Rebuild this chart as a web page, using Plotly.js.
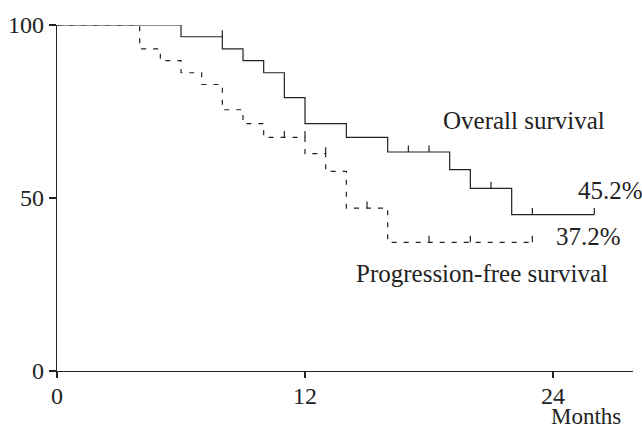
<!DOCTYPE html>
<html>
<head>
<meta charset="utf-8">
<script src="https://cdn.plot.ly/plotly-3.0.1.min.js"></script>
<style>html,body{margin:0;padding:0;background:#fff;}#chart{width:642px;height:431px;}</style>
</head>
<body>
<div id="chart"></div>
<script>
// Overall survival (Kaplan-Meier steps)
const osTimes = [0, 6, 8, 9, 10, 11, 12, 14, 16, 19, 20, 22, 26];
const osSurv  = [100, 96.6, 93.1, 89.7, 86.2, 79.0, 71.5, 67.5, 63.3, 58.2, 52.8, 45.2, 45.2];
const osCensor = [8, 17, 18, 21, 23, 26];

// Progression-free survival
const pfsTimes = [0, 4, 5, 6, 7, 8, 9, 10, 12, 13, 14, 16, 23];
const pfsSurv  = [100, 93.1, 89.7, 86.2, 82.8, 75.5, 71.5, 67.5, 62.8, 57.7, 47.1, 37.2, 37.2];
const pfsCensor = [11, 12, 13, 15, 18, 20, 23];

const xTicks = [0, 12, 24];
const yTicks = [0, 50, 100];

const INK = '#222';
const TICK_H = 1.9; // censor tick height (y units)

function levelBefore(times, surv, t) {
  let v = surv[0];
  for (let i = 0; i < times.length; i++) { if (times[i] < t) v = surv[i]; }
  return v;
}
function censorSegs(times, surv, cens) {
  const x = [], y = [];
  cens.forEach(t => {
    const v = levelBefore(times, surv, t);
    x.push(t, t, null); y.push(v, v + TICK_H, null);
  });
  return {x, y};
}
const osC = censorSegs(osTimes, osSurv, osCensor);
const pfsC = censorSegs(pfsTimes, pfsSurv, pfsCensor);

const FAM = '"Liberation Serif", "Times New Roman", serif';
const font = {family: FAM, size: 25, color: INK};

const data = [
  {x: pfsTimes, y: pfsSurv, mode: 'lines', line: {shape: 'hv', color: INK, width: 1.2, dash: '5px,7px'}, hoverinfo: 'skip'},
  {x: pfsC.x, y: pfsC.y, mode: 'lines', line: {color: INK, width: 1.2}, hoverinfo: 'skip'},
  {x: osTimes, y: osSurv, mode: 'lines', line: {shape: 'hv', color: INK, width: 1.2}, hoverinfo: 'skip'},
  {x: osC.x, y: osC.y, mode: 'lines', line: {color: INK, width: 1.2}, hoverinfo: 'skip'}
];

const layout = {
  width: 642, height: 431,
  margin: {l: 57, r: 9, t: 25, b: 60},
  paper_bgcolor: '#fff', plot_bgcolor: '#fff',
  showlegend: false,
  font: font,
  xaxis: {
    range: [0, 27.87], showgrid: false, zeroline: false,
    showline: true, linecolor: INK, linewidth: 1.3,
    ticks: 'outside', ticklen: 6, tickcolor: INK, tickwidth: 1.3,
    ticklabelstandoff: -3,
    tickmode: 'array', tickvals: xTicks, ticktext: xTicks.map(String),
    tickfont: {family: FAM, size: 24, color: INK}
  },
  yaxis: {
    range: [0, 100], showgrid: false, zeroline: false,
    showline: true, linecolor: INK, linewidth: 1.3,
    ticks: 'outside', ticklen: 7, tickcolor: INK, tickwidth: 1.3,
    tickmode: 'array', tickvals: yTicks, ticktext: yTicks.map(String),
    tickfont: {family: FAM, size: 24, color: INK}
  },
  annotations: [
    {text: 'Overall survival', x: 18.6, y: 72.3, xref: 'x', yref: 'y', xanchor: 'left', yanchor: 'middle', showarrow: false, font: font},
    {text: '45.2%', x: 25.1, y: 52.3, xref: 'x', yref: 'y', xanchor: 'left', yanchor: 'middle', showarrow: false, font: font},
    {text: '37.2%', x: 24.05, y: 38.8, xref: 'x', yref: 'y', xanchor: 'left', yanchor: 'middle', showarrow: false, font: font},
    {text: 'Progression-free survival', x: 14.35, y: 28.2, xref: 'x', yref: 'y', xanchor: 'left', yanchor: 'middle', showarrow: false, font: font},
    {text: 'Months', x: 23.8, y: -0.1734, xref: 'x', yref: 'paper', xanchor: 'left', yanchor: 'bottom', showarrow: false,
     font: {family: FAM, size: 23, color: INK}}
  ]
};

Plotly.newPlot('chart', data, layout, {displayModeBar: false, staticPlot: true});
</script>
</body>
</html>
